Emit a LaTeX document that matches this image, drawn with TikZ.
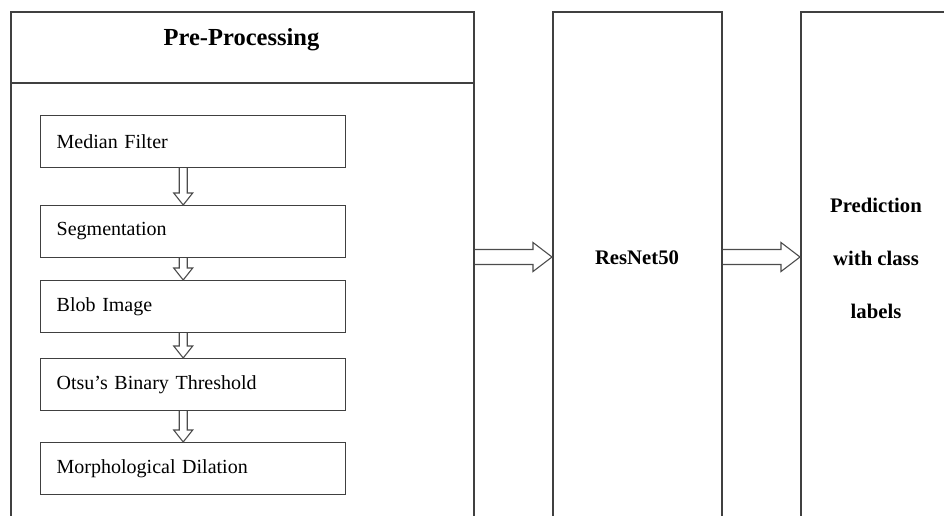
\documentclass[tikz,border=0pt]{standalone}
\usepackage{fontspec}
\setmainfont{Liberation Serif}
\usetikzlibrary{calc}
\newcommand{\hollowdown}[2]{%
  \draw[hollow] ($(#1.south)+(-14,0)$) -- ($(#2.north)+(-14,-12)$) -- ($(#2.north)+(-19.5,-12)$)
    -- ($(#2.north)+(-10,0)$) -- ($(#2.north)+(-0.5,-12)$) -- ($(#2.north)+(-6,-12)$)
    -- ($(#1.south)+(-6,0)$);}
\newcommand{\hollowright}[2]{%
  \draw[hollow] ($(#1.east |- mid)+(0,-7.5)$) -- ($(#2.west |- mid)+(-19,-7.5)$) -- ($(#2.west |- mid)+(-19,-14.5)$)
    -- (#2.west |- mid) -- ($(#2.west |- mid)+(-19,14.5)$) -- ($(#2.west |- mid)+(-19,7.5)$)
    -- ($(#1.east |- mid)+(0,7.5)$);}
\begin{document}
\begin{tikzpicture}[x=1pt,y=-1pt,
  outer/.style={draw=black!75, line width=1.6pt, rectangle, anchor=north west, inner sep=0pt, minimum height=540pt},
  stagebox/.style={draw=black!75, line width=1.4pt, rectangle, minimum height=51.5pt, text width=273pt,
    inner xsep=16pt, inner ysep=0pt, align=left, font=\fontsize{20}{24}\selectfont, anchor=north west},
  hollow/.style={draw=black!70, line width=1.1pt, line join=miter},
  boldtext/.style={font=\fontsize{20.7}{53}\selectfont\bfseries, align=center, inner sep=0pt}]
\useasboundingbox (0,0) rectangle (944,515);
\clip (0,0) rectangle (944,515);
\coordinate (mid) at (0,257);
\coordinate (hdr) at (0,83);
% outer columns
\node[outer, minimum width=463pt] (pre) at (10,11) {};
\node[outer, minimum width=169pt] (res) at (552,11) {};
\node[outer, minimum width=160pt] (pred) at (800,11) {};
\draw[draw=black!75, line width=1.6pt] (pre.west |- hdr) -- (pre.east |- hdr);
\node[font=\fontsize{24.5}{28}\selectfont\bfseries, anchor=base] (title) at (241.5,45) {Pre-Processing};
% stages
\node[stagebox] (s1) at (40,115) {Median Filter};
\node[stagebox] (s2) at (40,205) {Segmentation};
\node[stagebox] (s3) at (40,280) {Blob Image};
\node[stagebox] (s4) at (40,358) {Otsu’s Binary Threshold};
\node[stagebox] (s5) at (40,442) {Morphological Dilation};
\hollowdown{s1}{s2}
\hollowdown{s2}{s3}
\hollowdown{s3}{s4}
\hollowdown{s4}{s5}
% texts
\node[boldtext] (restext) at (637,258) {ResNet50};
\node[boldtext] (predtext) at (876,258) {Prediction\\with class\\labels};
% arrows
\hollowright{pre}{res}
\hollowright{res}{pred}
\end{tikzpicture}
\end{document}
